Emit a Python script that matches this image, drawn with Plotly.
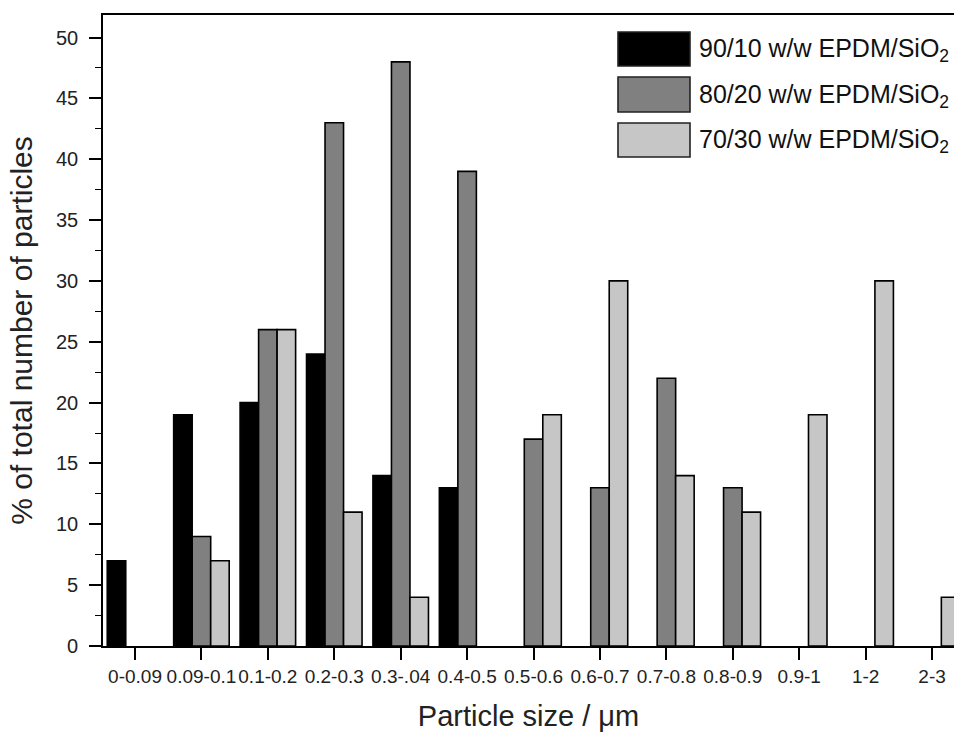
import plotly.graph_objects as go

categories = ["0-0.09", "0.09-0.1", "0.1-0.2", "0.2-0.3", "0.3-.04", "0.4-0.5",
              "0.5-0.6", "0.6-0.7", "0.7-0.8", "0.8-0.9", "0.9-1", "1-2", "2-3"]
s_90_10 = [7, 19, 20, 24, 14, 13, 0, 0, 0, 0, 0, 0, 0]
s_80_20 = [0, 9, 26, 43, 48, 39, 17, 13, 22, 13, 0, 0, 0]
s_70_30 = [0, 7, 26, 11, 4, 0, 19, 30, 14, 11, 19, 30, 4]
series_names = ["90/10 w/w EPDM/SiO<sub>2</sub>",
                "80/20 w/w EPDM/SiO<sub>2</sub>",
                "70/30 w/w EPDM/SiO<sub>2</sub>"]
series_values = [s_90_10, s_80_20, s_70_30]
colors = ["#000000", "#808080", "#c6c6c6"]

FONT = "Liberation Sans, Arial, sans-serif"
W, H = 954, 736
L, R, T, B = 103, 0, 15, 90

fig = go.Figure()
for name, vals, col in zip(series_names, series_values, colors):
    fig.add_trace(go.Bar(
        x=categories, y=[v if v else None for v in vals], name=name,
        marker=dict(color=col, line=dict(color="#000000", width=1.6)),
        showlegend=False,
    ))

# custom legend (large swatches as in the reference)
pw = W - L - R
ph = H - T - B
def px_to_paper_x(px):
    return (px - L) / pw
def px_to_paper_y(py):
    return (H - B - py) / ph

legend_rows = [(32, 66), (77, 112), (123, 157)]
shapes = []
annotations = []
for (y0, y1), name, col in zip(legend_rows, series_names, colors):
    shapes.append(dict(type="rect", xref="paper", yref="paper",
                       x0=px_to_paper_x(618), x1=px_to_paper_x(690),
                       y0=px_to_paper_y(y1), y1=px_to_paper_y(y0),
                       fillcolor=col, line=dict(color="#222222", width=1.6)))
    annotations.append(dict(xref="paper", yref="paper",
                            x=px_to_paper_x(697), y=px_to_paper_y((y0 + y1) / 2 + 1),
                            xanchor="left", yanchor="middle", showarrow=False,
                            text=name, font=dict(family=FONT, size=25, color="#111111")))

fig.update_layout(
    width=W, height=H,
    margin=dict(l=L, r=R, t=T, b=B, pad=0),
    paper_bgcolor="white", plot_bgcolor="white",
    barmode="group", bargap=0.164, bargroupgap=0,
    font=dict(family=FONT, color="#000000"),
    shapes=shapes, annotations=annotations,
)
fig.update_xaxes(
    type="category", range=[-0.482, 12.33],
    showline=True, linecolor="#000000", linewidth=1.6, mirror=True,
    ticks="outside", ticklen=12, tickwidth=1.6, tickcolor="#000000",
    tickangle=0, tickfont=dict(family=FONT, size=19, color="#222222"),
    showgrid=False, zeroline=False,
    title=dict(text="Particle size / \u03bcm", font=dict(family=FONT, size=29, color="#222222"),
               standoff=20),
)
fig.update_yaxes(
    range=[0, 51.85], tick0=0, dtick=5,
    showline=True, linecolor="#000000", linewidth=1.6, mirror=False,
    ticks="outside", ticklen=12, tickwidth=1.6, tickcolor="#000000",
    ticklabelstandoff=7,
    minor=dict(ticks="outside", ticklen=6, tickwidth=1.4, tickcolor="#000000", dtick=2.5, showgrid=False),
    tickfont=dict(family=FONT, size=20, color="#222222"),
    showgrid=False, zeroline=False,
    title=dict(text="% of total number of particles", font=dict(family=FONT, size=30, color="#222222"),
               standoff=14),
)

fig.write_html("out.html")
